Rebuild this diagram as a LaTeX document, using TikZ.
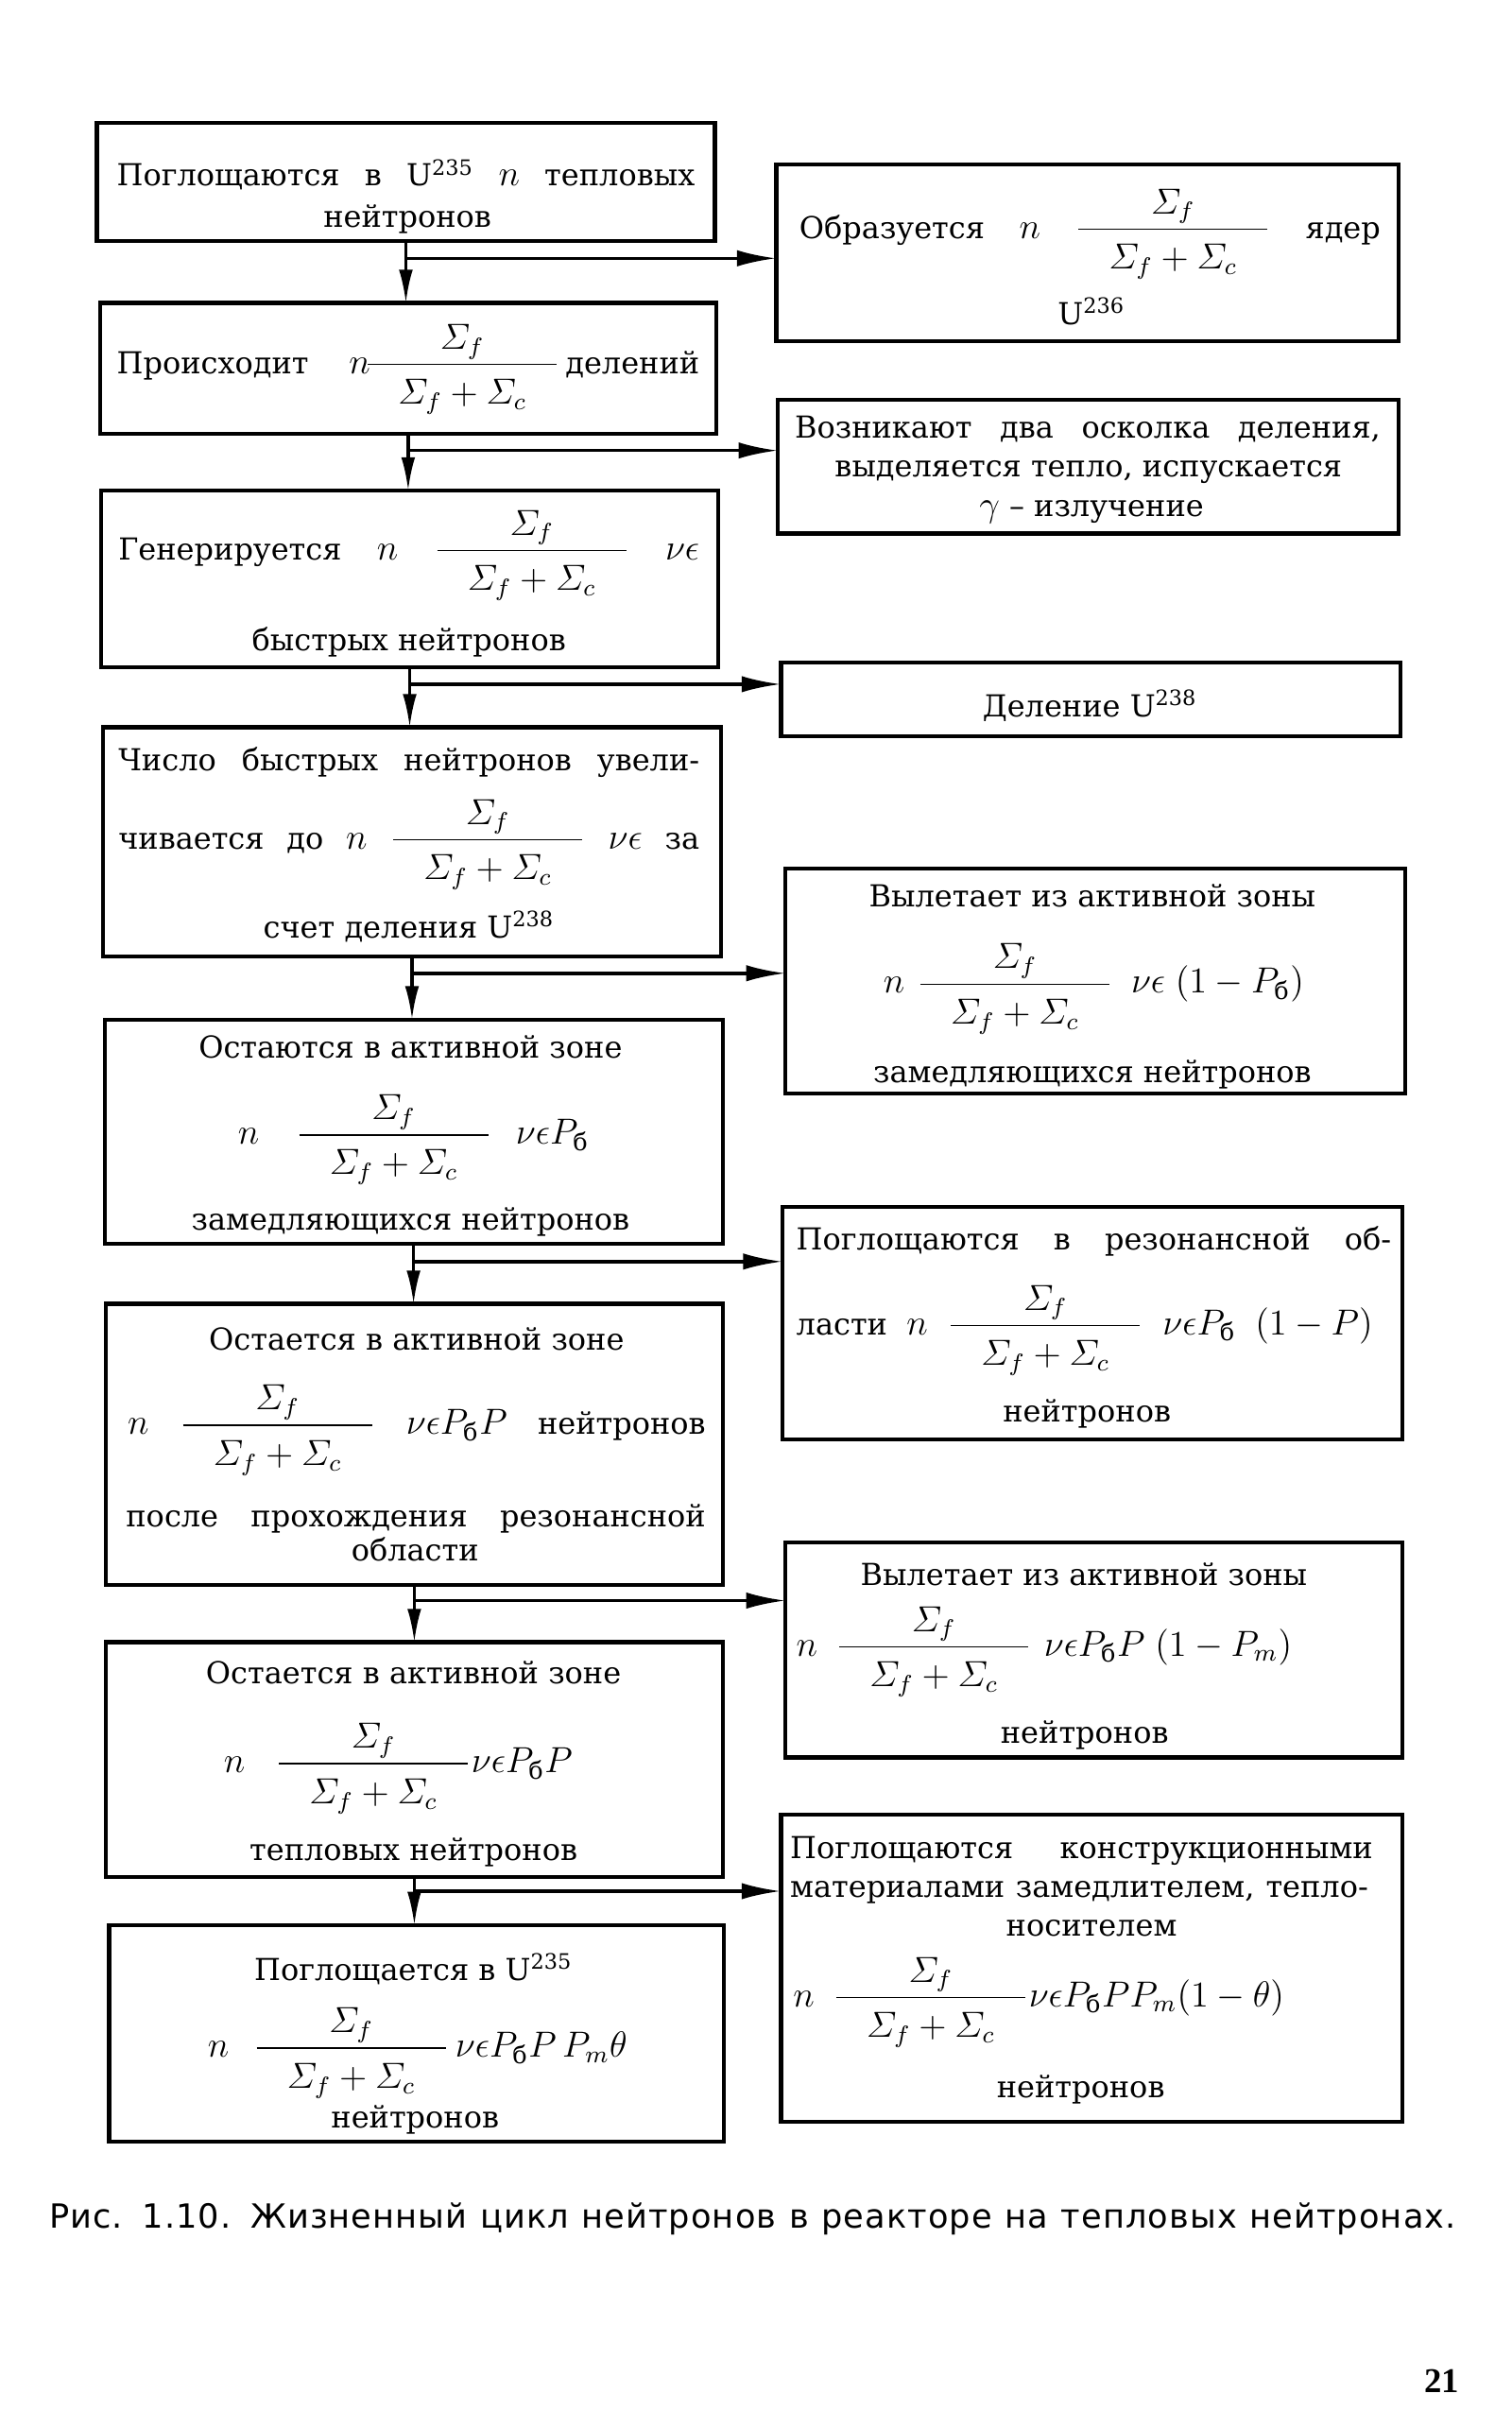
\documentclass[tikz,border=0pt]{standalone}
\usepackage{amsmath}
\usepackage{fontspec}
\setmainfont{DejaVu Serif}
\newfontfamily\capf[LetterSpace=3]{DejaVu Sans}
\newfontfamily\pagenumf{Liberation Serif}
\usetikzlibrary{arrows.meta,calc}

\newcommand\bodyf{\fontsize{10}{12}\selectfont}
\newcommand\M[1]{{\fontsize{12}{14}\selectfont${\displaystyle #1}$}}
\newcommand\Fr{\dfrac{\varSigma_f}{\rule{0pt}{11.5pt}\hspace{10pt}\varSigma_f+\varSigma_c\hspace{10pt}}}
\newcommand\Pb{P_{\text{б}}}
\newcommand\J[2]{\makebox[\dimexpr0.50839pt*#1\relax][s]{#2}}
\newcommand\mkbox[5]{\node[bx, minimum width={(#4-#2)*0.50839pt}, minimum height={(#5-#3)*0.50839pt}] (#1) at ({(#2+#4)/2},{(#3+#5)/2}) {};}

\tikzset{
  bx/.style={draw, line width=1.3pt, inner sep=0pt, outer sep=0pt},
  tx/.style={anchor=base, inner sep=0pt, outer sep=0pt, font=\bodyf},
  txl/.style={tx, anchor=base west},
  vdn/.style={line width=1pt, -{Latex[length=11pt,width=4.6pt]}},
  hrt/.style={line width=1.1pt, -{Latex[length=13pt,width=5.4pt]}},
}

\begin{document}
\begin{tikzpicture}[x=0.50839pt, y=-0.50839pt]
\path[fill=white] (0,0) rectangle (983.5,1568.1);
\useasboundingbox (0,0) rectangle (983.5,1568.1);

% ---- left column boxes
\mkbox{A}{63}{80}{465}{157}
\mkbox{B}{65}{197}{466}{282}
\mkbox{C}{66}{319}{467}{434}
\mkbox{D}{67}{473}{469}{622}
\mkbox{E}{68}{663}{470}{809}
\mkbox{F}{69}{848}{470}{1031}
\mkbox{G}{69}{1068}{470}{1221}
\mkbox{H}{71}{1252}{471}{1393}
% ---- right column boxes
\mkbox{R1}{505}{107}{910}{222}
\mkbox{R2}{506}{260}{910}{347}
\mkbox{R3}{508}{431}{911}{479}
\mkbox{R4}{511}{565}{914}{711}
\mkbox{R5}{509}{785}{912}{936}
\mkbox{R6}{511}{1003}{912}{1143}
\mkbox{R7}{508}{1180}{912}{1380}

% ---- texts, left column
\node[tx] (A1) at (264,121) {\J{376}{Поглощаются в U\textsuperscript{235} \M{n} тепловых}};
\node[tx] (A2) at (265,148) {нейтронов};

\node[tx] (B1) at (265.5,243) {\J{379}{Происходит \M{n\!\Fr}\,делений}};

\node[tx] (C1) at (266,364) {\J{378}{Генерируется \M{n} \M{\Fr} \M{\nu\epsilon}}};
\node[tx] (C2) at (266,423) {быстрых нейтронов};

\node[tx] (D1) at (266,501) {\J{378}{Число быстрых нейтронов увели-}};
\node[tx] (D2) at (266,552) {\J{378}{чивается до \M{n} \M{\Fr} \M{\nu\epsilon} за}};
\node[tx] (D3) at (266,610) {счет деления U\textsuperscript{238}};

\node[tx] (E1) at (267,688) {Остаются в активной зоне};
\node[tx] (E2) at (269,744) {\M{n\hspace{12pt}\Fr\hspace{8pt}\nu\epsilon\Pb}};
\node[tx] (E3) at (267,800) {замедляющихся нейтронов};

\node[tx] (F1) at (271,878) {Остается в активной зоне};
\node[tx] (F2) at (271,933) {\J{376}{\M{n} \M{\Fr} \M{\nu\epsilon\Pb P} нейтронов}};
\node[tx] (F3) at (270.5,993) {\J{377}{после прохождения резонансной}};
\node[tx] (F4) at (270,1015) {области};

\node[tx] (G1) at (269,1095) {Остается в активной зоне};
\node[tx] (G2) at (259,1153) {\M{n\hspace{10pt}\Fr\nu\epsilon\Pb P}};
\node[tx] (G3) at (269,1210) {тепловых нейтронов};

\node[tx] (H1) at (269,1288) {Поглощается в U\textsuperscript{235}};
\node[tx] (H2) at (271.5,1338) {\M{n\hspace{8pt}\Fr\,\nu\epsilon\Pb P\,P_m\theta}};
\node[tx] (H3) at (270,1384) {нейтронов};

% ---- texts, right column
\node[tx] (R1a) at (709,155) {\J{378}{Образуется \M{n} \M{\Fr} ядер}};
\node[tx] (R1b) at (710,211) {U\textsuperscript{236}};

\node[tx] (R2a) at (707.5,285) {\J{381}{Возникают два осколка деления,}};
\node[tx] (R2b) at (708,310) {выделяется тепло, испускается};
\node[tx] (R2c) at (710,336) {\M{\gamma}~– излучение};

\node[tx] (R3a) at (709,466) {Деление U\textsuperscript{238}};

\node[tx] (R4a) at (710.5,590) {Вылетает из активной зоны};
\node[tx] (R4b) at (711.5,646) {\M{n\hspace{4pt}\Fr\hspace{6pt}\nu\epsilon\;(1-\Pb)}};
\node[tx] (R4c) at (710.5,704) {замедляющихся нейтронов};

\node[tx] (R5a) at (711.5,813) {\J{387}{Поглощаются в резонансной об-}};
\node[tx] (R5b) at (705.5,868) {\J{375}{ласти \M{n} \M{\Fr} \M{\nu\epsilon\Pb} \M{(1-P)}}};
\node[tx] (R5c) at (707,925) {нейтронов};

\node[tx] (R6a) at (705,1031) {Вылетает из активной зоны};
\node[txl] (R6b) at (518,1077) {\M{n\hspace{6pt}\Fr\hspace{4pt}\nu\epsilon\Pb P\;(1-P_m)}};
\node[tx] (R6c) at (705.5,1134) {нейтронов};

\node[tx] (R7a) at (703.5,1209) {\J{379}{Поглощаются конструкционными}};
\node[tx] (R7b) at (702,1234) {\J{376}{материалами замедлителем, тепло-}};
\node[tx] (R7c) at (710,1259) {носителем};
\node[txl] (R7d) at (516,1305) {\M{n\hspace{6pt}\Fr\nu\epsilon\Pb PP_m(1-\theta)}};
\node[tx] (R7e) at (703,1364.5) {нейтронов};

% ---- vertical connectors
\draw[vdn] (A.south) -- (A.south |- B.north);
\draw[vdn] (B.south) -- (B.south |- C.north);
\draw[vdn] (C.south) -- (C.south |- D.north);
\draw[vdn] (D.south) -- (D.south |- E.north);
\draw[vdn] (E.south) -- (E.south |- F.north);
\draw[vdn] (F.south) -- (F.south |- G.north);
\draw[vdn] (G.south) -- (G.south |- H.north);

% ---- side branches
\coordinate (jA) at ($(A.south)+(0,11)$);
\coordinate (jB) at ($(B.south)+(0,11)$);
\coordinate (jC) at ($(C.south)+(0,11)$);
\coordinate (jD) at ($(D.south)+(0,11)$);
\coordinate (jE) at ($(E.south)+(0,11.5)$);
\coordinate (jF) at ($(F.south)+(0,10)$);
\coordinate (jG) at ($(G.south)+(0,9)$);
\draw[hrt] (jA) -- (jA -| R1.west);
\draw[hrt] (jB) -- (jB -| R2.west);
\draw[hrt] (jC) -- (jC -| R3.west);
\draw[hrt] (jD) -- (jD -| R4.west);
\draw[hrt] (jE) -- (jE -| R5.west);
\draw[hrt] (jF) -- (jF -| R6.west);
\draw[hrt] (jG) -- (jG -| R7.west);

% ---- caption and page number
\node[anchor=base, inner sep=0pt] (cap) at (489.5,1449)
  {\capf\fontsize{11}{13}\selectfont\J{915}{Рис. 1.10. Жизненный цикл нейтронов в реакторе на тепловых нейтронах.}};
\node[anchor=base, inner sep=0pt] (pg) at (938,1556)
  {\pagenumf\bfseries\fontsize{11.5}{13}\selectfont 21};
\end{tikzpicture}
\end{document}
